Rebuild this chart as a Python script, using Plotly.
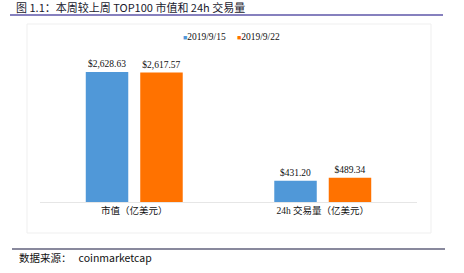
import plotly.graph_objects as go

categories = ["市值（亿美元）", "24h 交易量（亿美元）"]
series_names = ["2019/9/15", "2019/9/22"]
values_0915 = [2628.63, 431.20]
values_0922 = [2617.57, 489.34]
colors = ["#5098d8", "#ff7200"]

W, H = 464, 273
L, R, T, B = 40, 47, 45, 71
pw, ph = W - L - R, H - T - B

def px(x):
    return (x - L) / pw

def py(y):
    return (H - B - y) / ph

fig = go.Figure()
for name, vals, c in zip(series_names, [values_0915, values_0922], colors):
    fig.add_trace(go.Bar(
        x=categories, y=vals, name=name, marker_color=c, marker_line_width=0,
        text=[f"${v:,.2f}" for v in vals], textposition="outside",
        textfont=dict(family="Liberation Serif", size=9.5, color="#111"),
        cliponaxis=False, showlegend=False,
    ))

fig.update_layout(
    width=W, height=H,
    margin=dict(l=L, r=R, t=T, b=B),
    paper_bgcolor="white", plot_bgcolor="white",
    barmode="group", bargap=0.422, bargroupgap=0.22,
    showlegend=False,
    xaxis=dict(showline=True, linecolor="#e6e6e6", linewidth=1, ticks="",
               tickfont=dict(family="Liberation Serif, Noto Sans CJK SC", size=9.5, color="#111"),
               fixedrange=True),
    yaxis=dict(range=[0, 3174], visible=False, showgrid=False, fixedrange=True),
)

shapes = [
    dict(type="rect", xref="paper", yref="paper", x0=px(27), x1=px(431), y0=py(24), y1=py(233),
         line=dict(color="#efefef", width=1), layer="below"),
    dict(type="line", xref="paper", yref="paper", x0=px(10), x1=px(443), y0=py(15), y1=py(15),
         line=dict(color="#5e56a8", width=1.5)),
    dict(type="line", xref="paper", yref="paper", x0=px(12), x1=px(445), y0=py(249), y1=py(249),
         line=dict(color="#14143c", width=1.2)),
]
fig.update_layout(shapes=shapes)

# legend drawn as text with coloured square glyphs
legend_x = [181, 235]
for name, c, lx in zip(series_names, colors, legend_x):
    fig.add_annotation(xref="paper", yref="paper", x=px(lx), y=py(37), xanchor="left", yanchor="middle",
                       text=f'<span style="color:{c};font-size:7px">■</span>{name}', showarrow=False,
                       font=dict(family="Liberation Serif", size=9.5, color="#111"))

fig.add_annotation(xref="paper", yref="paper", x=px(14), y=py(7.5), xanchor="left", yanchor="middle",
                   text="图 1.1：本周较上周 TOP100 市值和 24h 交易量", showarrow=False,
                   font=dict(family="Noto Sans CJK SC", size=11, color="#1a1a2e"))
fig.add_annotation(xref="paper", yref="paper", x=px(17), y=py(257), xanchor="left", yanchor="middle",
                   text="数据来源：   coinmarketcap", showarrow=False,
                   font=dict(family="Noto Sans CJK SC", size=10.5, color="#111"))

fig.write_html("out.html")
